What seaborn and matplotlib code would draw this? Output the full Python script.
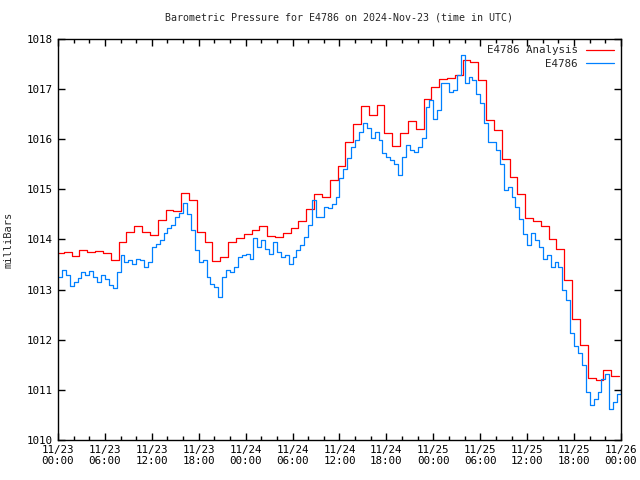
import matplotlib
matplotlib.use("Agg")
import matplotlib.pyplot as plt
import matplotlib.dates as mdates
import seaborn as sns
import pandas as pd

# hourly analysis values (each step starts at HH:45, from 11/22 23:45)
analysis = [1013.73, 1013.76, 1013.67, 1013.80, 1013.76, 1013.78, 1013.74, 1013.59,
            1013.95, 1014.15, 1014.27, 1014.14, 1014.08, 1014.39, 1014.59, 1014.56,
            1014.92, 1014.78, 1014.14, 1013.95, 1013.57, 1013.66, 1013.95, 1014.02,
            1014.10, 1014.18, 1014.26, 1014.07, 1014.05, 1014.12, 1014.23, 1014.36,
            1014.61, 1014.90, 1014.85, 1015.19, 1015.46, 1015.95, 1016.30, 1016.66,
            1016.48, 1016.68, 1016.13, 1015.87, 1016.12, 1016.36, 1016.20, 1016.81,
            1017.05, 1017.21, 1017.22, 1017.28, 1017.59, 1017.55, 1017.18, 1016.38,
            1016.18, 1015.61, 1015.24, 1014.91, 1014.42, 1014.36, 1014.27, 1014.00,
            1013.82, 1013.19, 1012.41, 1011.89, 1011.23, 1011.20, 1011.40, 1011.28,
            1011.28]

# station observations every 30 min from 11/23 00:00
observed = [1013.25, 1013.39, 1013.30, 1013.08, 1013.16, 1013.24, 1013.36, 1013.29,
            1013.37, 1013.26, 1013.15, 1013.29, 1013.22, 1013.10, 1013.03, 1013.35,
            1013.70, 1013.55, 1013.59, 1013.52, 1013.62, 1013.59, 1013.46, 1013.56,
            1013.85, 1013.92, 1013.99, 1014.12, 1014.22, 1014.28, 1014.45, 1014.52,
            1014.72, 1014.50, 1014.19, 1013.79, 1013.55, 1013.59, 1013.26, 1013.12,
            1013.05, 1012.86, 1013.25, 1013.39, 1013.36, 1013.46, 1013.66, 1013.69,
            1013.71, 1013.62, 1014.02, 1013.85, 1013.99, 1013.82, 1013.72, 1013.95,
            1013.75, 1013.66, 1013.70, 1013.52, 1013.65, 1013.79, 1013.89, 1014.05,
            1014.29, 1014.79, 1014.45, 1014.45, 1014.65, 1014.62, 1014.70, 1014.85,
            1015.22, 1015.40, 1015.62, 1015.85, 1015.98, 1016.15, 1016.32, 1016.22,
            1016.02, 1016.15, 1015.98, 1015.72, 1015.65, 1015.58, 1015.50, 1015.28,
            1015.65, 1015.88, 1015.78, 1015.75, 1015.85, 1016.02, 1016.65, 1016.78,
            1016.40, 1016.58, 1017.12, 1017.12, 1016.95, 1016.98, 1017.28, 1017.68,
            1017.12, 1017.25, 1017.18, 1016.90, 1016.72, 1016.32, 1015.95, 1015.95,
            1015.78, 1015.50, 1014.98, 1015.05, 1014.85, 1014.65, 1014.40, 1014.10,
            1013.90, 1014.12, 1013.99, 1013.85, 1013.62, 1013.69, 1013.46, 1013.56,
            1013.46, 1013.00, 1012.80, 1012.14, 1011.87, 1011.74, 1011.50, 1010.95,
            1010.70, 1010.81, 1010.95, 1011.21, 1011.31, 1010.61, 1010.76, 1010.91,
            1011.01]

ana_df = pd.DataFrame({"time": pd.date_range("2024-11-22 23:45", periods=len(analysis), freq="h"),
                       "mb": analysis})
obs_df = pd.DataFrame({"time": pd.date_range("2024-11-23 00:00", periods=len(observed), freq="30min"),
                       "mb": observed})

sns.set_style("ticks")
plt.rcParams["font.family"] = ["DejaVu Sans Mono"]

fig = plt.figure(figsize=(6.4, 4.8), dpi=100)
ax = fig.add_axes([0.0906, 0.0833, 0.8797, 0.8355])

sns.lineplot(data=ana_df, x="time", y="mb", color="#ff0000", lw=0.9,
             drawstyle="steps-post", label="E4786 Analysis", ax=ax)
sns.lineplot(data=obs_df, x="time", y="mb", color="#0080ff", lw=0.9,
             drawstyle="steps-post", label="E4786", ax=ax)

ax.set_xlim(pd.Timestamp("2024-11-23 00:00"), pd.Timestamp("2024-11-26 00:00"))
ax.set_ylim(1010, 1018)
ax.set_yticks(range(1010, 1019))
ax.xaxis.set_major_locator(mdates.HourLocator(byhour=[0, 6, 12, 18]))
ax.xaxis.set_minor_locator(mdates.HourLocator(interval=2))
ax.xaxis.set_major_formatter(mdates.DateFormatter("%m/%d\n%H:%M"))

ax.tick_params(which="both", direction="in", top=True, right=True, labelsize=7.8, colors="black")
ax.tick_params(which="major", length=5, width=1)
ax.tick_params(which="minor", length=3, width=1)
for s in ax.spines.values():
    s.set_visible(True)
    s.set_linewidth(1)
    s.set_color("black")

ax.set_xlabel("")
ax.set_ylabel("milliBars", fontsize=7.5, labelpad=10)
ax.set_title("Barometric Pressure for E4786 on 2024-Nov-23 (time in UTC)", fontsize=7.2, pad=13)

ax.legend(loc="upper right", frameon=False, markerfirst=False, fontsize=7.8,
          handlelength=2.6, handletextpad=0.8, labelspacing=0.3, borderaxespad=0.2)

fig.savefig("out.png", dpi=100)
